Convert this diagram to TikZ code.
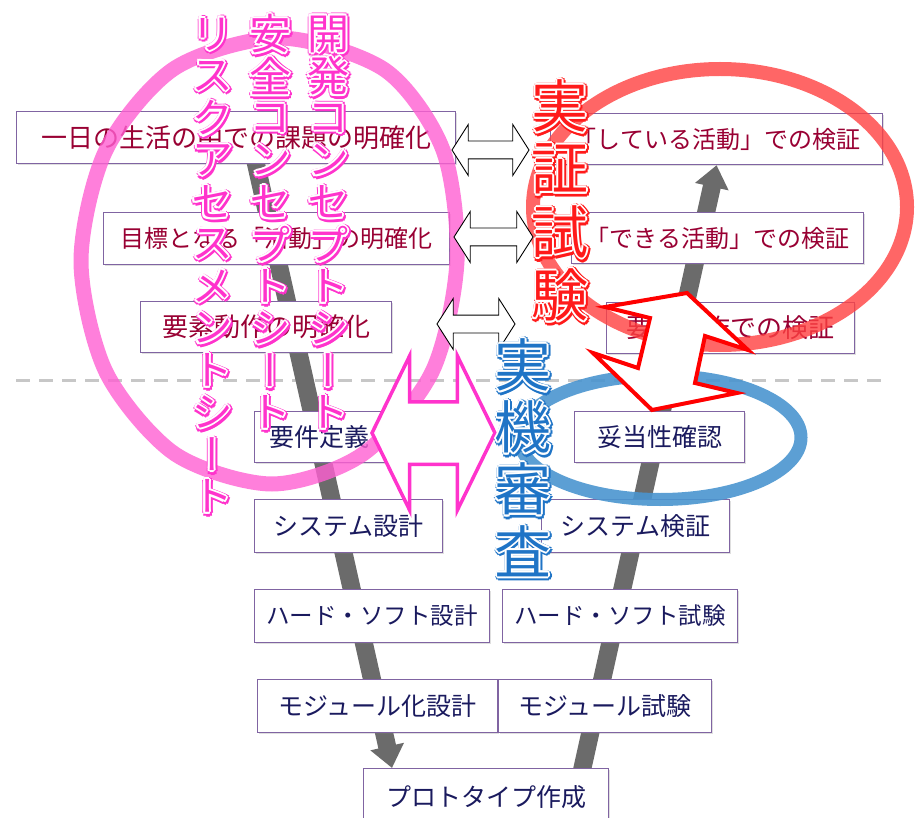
\documentclass[tikz,border=0pt]{standalone}
\usepackage{fontspec}
\setmainfont{Noto Sans CJK JP}
\newfontfamily\tatefont[RawFeature=+vert]{Noto Sans CJK JP}
\usetikzlibrary{arrows.meta,shapes.arrows,shadows,backgrounds}

\definecolor{boxline}{HTML}{8064A2}
\definecolor{aimred}{HTML}{990033}
\definecolor{buildnavy}{HTML}{1A1A5E}
\definecolor{vgray}{HTML}{6B6B6B}
\definecolor{sheetpink}{HTML}{FF33CC}
\definecolor{ringpink}{HTML}{FF5FD2}
\definecolor{ringred}{HTML}{FF4040}
\definecolor{ringblue}{HTML}{4A95CF}
\definecolor{testred}{HTML}{FF1A1A}
\definecolor{reviewblue}{HTML}{1F74C6}

% outlined letters of the vertical titles
\newcommand{\tate}[4]{%
  \foreach \a in {0,45,...,315}
    \node[#3] at ([shift={(\a:3.4pt)},xshift=1pt,yshift=-1.2pt]#2) {#4};
  \foreach \a in {0,45,...,315}
    \node[#3, text=white] at ([shift={(\a:2pt)}]#2) {#4};
  \node[#3] (#1) at (#2) {#4};}

\begin{document}
\begin{tikzpicture}[x=1pt, y=-1pt,
stage/.style={draw=boxline, line width=1.2pt, fill=white,
  anchor=north west, inner sep=0pt,
  drop shadow={opacity=.25, shadow xshift=1.5pt, shadow yshift=-1.5pt}},
aim/.style={stage, text=aimred, font=\fontsize{26}{28}\selectfont},
build/.style={stage, text=buildnavy, font=\fontsize{25}{27}\selectfont},
arm/.style={draw=vgray, line width=18pt, -{Triangle[width=33pt,length=22pt]}},
link/.style={double arrow, draw=black, fill=white, line width=.9pt,
  inner xsep=0pt, inner ysep=8.5pt,
  double arrow head extend=16.5pt, double arrow tip angle=115},
ring/.style={line width=14pt, draw opacity=.8},
sepline/.style={line width=3pt, draw=black!22, dash pattern=on 14pt off 9pt},
zig/.style={draw=red, line width=4pt, fill=white, line join=miter},
pinkletter/.style={inner sep=0pt, text=sheetpink,
  font={\tatefont\fontsize{42}{42}\selectfont}},
testletter/.style={inner sep=0pt, text=testred,
  font={\tatefont\fontsize{57}{57}\selectfont}},
reviewletter/.style={inner sep=0pt, text=reviewblue,
  font={\tatefont\fontsize{57}{57}\selectfont}}
]
\useasboundingbox (0,0) rectangle (918,818);

% goals and checks of the activity
\node (b1) [aim, minimum width=439pt, minimum height=52pt] at (16,111) {一日の生活の中での課題の明確化};
\node (b2) [aim, minimum width=346pt, minimum height=52pt, font=\fontsize{24}{26}\selectfont] at (103,212) {目標となる「活動」の明確化};
\node (b3) [aim, minimum width=251pt, minimum height=51pt] at (140,301) {要素動作の明確化};

\node (r1) [aim, minimum width=332pt, minimum height=51pt, font=\fontsize{24}{26}\selectfont] at (550,113) {「している活動」での検証};
\node (r2) [aim, minimum width=292pt, minimum height=51pt, font=\fontsize{24}{26}\selectfont] at (571,212) {「できる活動」での検証};
\node (r3) [aim, minimum width=248pt, minimum height=51pt] at (606,302) {要素動作での検証};

% design and test of the machine
\node (d1) [build, minimum width=130pt, minimum height=51pt] at (254,411) {要件定義};
\node (d2) [build, minimum width=188pt, minimum height=53pt] at (254,499) {システム設計};
\node (d3) [build, minimum width=235pt, minimum height=53pt, font=\fontsize{23.5}{26}\selectfont] at (254,589) {ハード・ソフト設計};
\node (d4) [build, minimum width=240pt, minimum height=53pt] at (257,679) {モジュール化設計};

\node (t1) [build, minimum width=170pt, minimum height=51pt] at (574,411) {妥当性確認};
\node (t2) [build, minimum width=188pt, minimum height=53pt] at (541,499) {システム検証};
\node (t3) [build, minimum width=235pt, minimum height=53pt, font=\fontsize{23.5}{26}\selectfont] at (502,589) {ハード・ソフト試験};
\node (t4) [build, minimum width=213pt, minimum height=53pt] at (498,679) {モジュール試験};

\node (proto) [build, minimum width=245pt, minimum height=56pt] at (363,768) {プロトタイプ作成};

\begin{scope}[on background layer]
\draw [sepline] (16,380) -- (882,380);
\draw [arm] ([xshift=14pt]b1.center) -- ([xshift=29pt]proto.north west);
\draw [arm] ([xshift=90pt]proto.center) -- (r1.south);
\end{scope}

% rings
\draw [ring, ringblue, draw opacity=.9, line width=13pt] (660,437.5) ellipse [x radius=141pt, y radius=62pt];
\draw [ring, ringred] (720,207) ellipse [x radius=187pt, y radius=138pt];
\draw [ring, ringpink, line width=15pt] plot [smooth cycle] coordinates {
  (280,38) (385,70) (443,150) (457,261) (432,372) (363,454)
  (272,484) (175,454) (106,372) (81,261) (106,150) (175,68)};

\node (a1) [link, minimum height=77pt] at (490.5,150) {};
\node (a2) [link, minimum height=79pt] at (493.5,237) {};
\node (a3) [link, minimum height=78pt] at (476,324) {};
\node (a4) [link, draw=sheetpink, line width=3.5pt, minimum height=123pt,
  inner ysep=29.5pt, double arrow head extend=46pt,
  double arrow tip angle=128] at (433.5,433) {};

\draw [zig] (605,307) -- (687,293) -- (748,350) -- (705,336) -- (695,383)
  -- (737,393) -- (652,410) -- (593,353) -- (638,368) -- (650,318) -- cycle;

% vertical titles
\foreach \c [count=\i, evaluate=\i as \ty using -8+42*\i] in {開,発,コ,ン,セ,プ,ト,シ,ー,ト}
  \tate{dev\i}{328,\ty}{pinkletter}{\c};
\foreach \c [count=\i, evaluate=\i as \ty using -8+42*\i] in {安,全,コ,ン,セ,プ,ト,シ,ー,ト}
  \tate{safe\i}{270,\ty}{pinkletter}{\c};
\foreach \c [count=\i, evaluate=\i as \ty using -8+42*\i] in {リ,ス,ク,ア,セ,ス,メ,ン,ト,シ,ー,ト}
  \tate{risk\i}{212,\ty}{pinkletter}{\c};
\foreach \c [count=\i, evaluate=\i as \ty using 43+63*\i] in {実,証,試,験}
  \tate{test\i}{560,\ty}{testletter}{\c};
\foreach \c [count=\i, evaluate=\i as \ty using 303+62*\i] in {実,機,審,査}
  \tate{review\i}{523,\ty}{reviewletter}{\c};
\end{tikzpicture}
\end{document}
